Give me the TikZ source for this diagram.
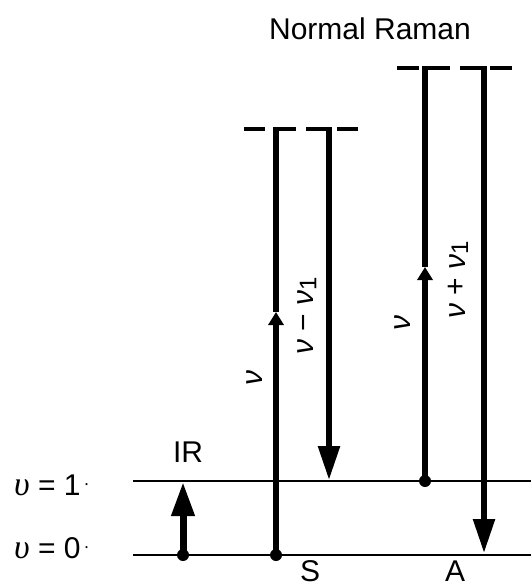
\documentclass[tikz,border=0pt]{standalone}
\usepackage{fontspec}
\setmainfont{Liberation Sans}
\newfontfamily\grk{Liberation Serif}
\usetikzlibrary{arrows.meta}
\newcommand{\nuu}{\textit{ν}}
\newcommand{\nuone}{\textit{ν}\raisebox{-3pt}{\fontsize{24}{24}\selectfont 1}}
\begin{document}
\begin{tikzpicture}[x=1pt,y=-1pt,
  lvl/.style={line width=2pt},
  shaft/.style={line width=5.5pt},
  virt/.style={line width=4pt},
  bigtip/.style={-{Triangle[length=34pt,width=21pt]}},
  midtip/.style={-{Triangle[length=13pt,width=15pt]}},
  dot/.style={circle,fill,inner sep=0pt,minimum size=12pt},
  lab/.style={font=\fontsize{30}{36}\selectfont, inner sep=0pt},
]
\useasboundingbox (0,0) rectangle (531,585);

% energy levels
\coordinate (L1a) at (133,481); \coordinate (L1b) at (531,481);
\coordinate (L0a) at (133,555); \coordinate (L0b) at (531,555);
\draw[lvl] (L1a) -- (L1b);
\draw[lvl] (L0a) -- (L0b);

\node[lab,anchor=base west] (u1) at (14,495) {{\fontsize{34}{36}\selectfont\grk\itshape υ} = 1\hspace{3pt}\raisebox{6pt}{\fontsize{18}{18}\selectfont ·}};
\node[lab,anchor=base west] (u0) at (14,558) {{\fontsize{34}{36}\selectfont\grk\itshape υ} = 0\hspace{3pt}\raisebox{6pt}{\fontsize{18}{18}\selectfont ·}};

% IR
\coordinate (ir0) at (183,555); \coordinate (ir1) at (183,482);
\draw[line width=7pt,-{Triangle[length=34pt,width=22pt]}] (ir0) -- (ir1);
\node[dot] (dir) at (ir0) {};
\node[lab,anchor=base] (irl) at (188,462) {IR};

% Stokes
\coordinate (sb) at (276,555); \coordinate (sm) at (276,312); \coordinate (st) at (276,127);
\draw[shaft,midtip] (sb) -- (sm);
\draw[shaft] (sm) -- (st);
\node[dot] (ds) at (sb) {};
\coordinate (sdt) at (329,127); \coordinate (sdb) at (329,480);
\draw[shaft,bigtip] (sdt) -- (sdb);
\coordinate (s1a) at (244,129); \coordinate (s1b) at (265,129);
\coordinate (s2a) at (274,129); \coordinate (s2b) at (296,129);
\coordinate (s3a) at (306,129); \coordinate (s3b) at (331,129);
\coordinate (s4a) at (337,129); \coordinate (s4b) at (358,129);
\draw[virt] (s1a) -- (s1b) (s2a) -- (s2b) (s3a) -- (s3b) (s4a) -- (s4b);
\node[lab,rotate=90] (snu) at (255,378) {\nuu};
\node[lab,rotate=90] (snu2) at (307,316) {\nuu\ − \nuone};
\node[lab,anchor=base] (sl) at (310,581) {S};

% anti-Stokes
\coordinate (ab) at (425,481); \coordinate (am) at (425,267); \coordinate (at) at (425,66);
\draw[shaft,midtip] (ab) -- (am);
\draw[shaft] (am) -- (at);
\node[dot] (da) at (ab) {};
\coordinate (adt) at (484,66); \coordinate (adb) at (484,553);
\draw[shaft,bigtip] (adt) -- (adb);
\coordinate (a1a) at (397,68); \coordinate (a1b) at (419,68);
\coordinate (a2a) at (423,68); \coordinate (a2b) at (450,68);
\coordinate (a3a) at (460,68); \coordinate (a3b) at (486,68);
\coordinate (a4a) at (490,68); \coordinate (a4b) at (512,68);
\draw[virt] (a1a) -- (a1b) (a2a) -- (a2b) (a3a) -- (a3b) (a4a) -- (a4b);
\node[lab,rotate=90] (anu) at (403,323) {\nuu};
\node[lab,rotate=90] (anu2) at (458,280) {\nuu\ + \nuone};
\node[lab,anchor=base] (al) at (455,581) {A};

\node[lab,anchor=base] (title) at (370,40) {Normal Raman};
\end{tikzpicture}
\end{document}
